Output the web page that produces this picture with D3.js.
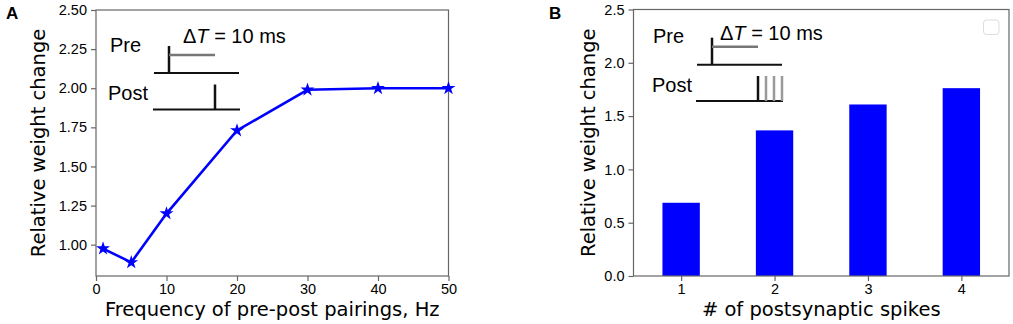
<!DOCTYPE html>
<html lang="en">
<head>
<meta charset="UTF-8">
<title>Relative weight change</title>
<style>
  body { margin: 0; background: #fff; }
  svg { display: block; font-family: "DejaVu Sans", sans-serif; }
  .tick text { font-size: 14.5px; fill: #000; }
  .inset text { font-family: "Liberation Sans", "Open Sans", sans-serif; }
</style>
<script src="https://cdn.jsdelivr.net/npm/d3@7"></script>
</head>
<body>
<div id="graphic"></div>
<script>
// panel A data
var freqs = [1, 5, 10, 20, 30, 40, 50];
var freqChange = [0.975, 0.887, 1.199, 1.73, 1.99, 2.0, 2.0];
var freqTicks = [0, 10, 20, 30, 40, 50];
var changeTicksA = [1.00, 1.25, 1.50, 1.75, 2.00, 2.25, 2.50];

// panel B data
var spikeCounts = [1, 2, 3, 4];
var spikeChange = [0.687, 1.366, 1.609, 1.762];
var changeTicksB = [0.0, 0.5, 1.0, 1.5, 2.0, 2.5];

var width = 1013, height = 324;
var spineColor = '#666';
var labelSize = 19.5;
var insetSize = 20;

var svg = d3.select('#graphic').append('svg')
    .attr('width', width)
    .attr('height', height);

function styleAxis(g) {
    g.selectAll('.domain').remove();
    g.selectAll('.tick line').attr('stroke', spineColor).attr('stroke-width', 1.2);
}

function frame(g, x0, x1, y0, y1) {
    g.append('rect')
        .attr('x', x0).attr('y', y0)
        .attr('width', x1 - x0).attr('height', y1 - y0)
        .attr('fill', 'none')
        .attr('stroke', spineColor)
        .attr('stroke-width', 1.2);
}

// inset schematic: pre / post spike cartoon
function drawInset(g, o, postSpikes) {
    var ins = g.append('g').attr('class', 'inset');
    ins.append('text').attr('x', o.preX).attr('y', o.preY).attr('font-size', insetSize).text('Pre');
    ins.append('text').attr('x', o.postX).attr('y', o.postY).attr('font-size', insetSize).text('Post');
    var dt = ins.append('text').attr('x', o.dtX).attr('y', o.dtY).attr('font-size', insetSize);
    dt.append('tspan').text('Δ');
    dt.append('tspan').attr('font-style', 'italic').text('T');
    dt.append('tspan').text(' = 10 ms');

    // pre baseline + spike + delay bar
    ins.append('line').attr('x1', o.lineX0).attr('x2', o.lineX1)
        .attr('y1', o.preBase).attr('y2', o.preBase).attr('stroke', '#111').attr('stroke-width', 2);
    ins.append('line').attr('x1', o.preSpike).attr('x2', o.preSpike)
        .attr('y1', o.preBase - 27).attr('y2', o.preBase).attr('stroke', '#111').attr('stroke-width', 2.5);
    ins.append('line').attr('x1', o.preSpike).attr('x2', o.postSpike)
        .attr('y1', o.preBase - 18).attr('y2', o.preBase - 18).attr('stroke', '#777').attr('stroke-width', 2.5);

    // post baseline + spikes
    ins.append('line').attr('x1', o.lineX0 - 1).attr('x2', o.lineX1 + 1)
        .attr('y1', o.postBase).attr('y2', o.postBase).attr('stroke', '#111').attr('stroke-width', 2);
    postSpikes.forEach(function (s, i) {
        ins.append('line').attr('x1', o.postSpike + s).attr('x2', o.postSpike + s)
            .attr('y1', o.postBase - 25).attr('y2', o.postBase)
            .attr('stroke', i === 0 ? '#111' : '#999').attr('stroke-width', 2.5);
    });
}

// ---------- Panel A ----------
var A = { left: 96, right: 448.5, top: 10, bottom: 276 };
var xA = d3.scaleLinear().domain([0, 50]).range([A.left, A.right]);
var yA = d3.scaleLinear().domain([0.8, 2.5]).range([A.bottom, A.top]);
var gA = svg.append('g');

gA.append('g').attr('transform', 'translate(0,' + A.bottom + ')')
    .call(d3.axisBottom(xA).tickValues(freqTicks).tickSize(5).tickPadding(3))
    .call(styleAxis);
gA.append('g').attr('transform', 'translate(' + A.left + ',0)')
    .call(d3.axisLeft(yA).tickValues(changeTicksA).tickFormat(d3.format('.2f')).tickSize(5).tickPadding(4))
    .call(styleAxis);
frame(gA, A.left, A.right, A.top, A.bottom);

drawInset(gA, {
    preX: 110, preY: 52, postX: 108, postY: 100, dtX: 183, dtY: 43,
    lineX0: 154, lineX1: 239, preBase: 73, postBase: 109.5,
    preSpike: 169, postSpike: 215
}, [0]);

var ptsA = freqs.map(function (f, i) { return [f, freqChange[i]]; });
gA.append('path').datum(ptsA)
    .attr('fill', 'none').attr('stroke', '#0000ff').attr('stroke-width', 2.6)
    .attr('d', d3.line().x(function (d) { return xA(d[0]); }).y(function (d) { return yA(d[1]); }));
gA.selectAll('.star').data(ptsA).join('path')
    .attr('class', 'star')
    .attr('transform', function (d) { return 'translate(' + xA(d[0]) + ',' + yA(d[1]) + ')'; })
    .attr('d', d3.symbol().type(d3.symbolStar).size(60))
    .attr('fill', '#0000ff');

gA.append('text').attr('x', (A.left + A.right) / 2).attr('y', 316)
    .attr('text-anchor', 'middle').attr('font-size', labelSize).text('Frequency of pre-post pairings, Hz');
gA.append('text').attr('transform', 'translate(45,' + (A.top + A.bottom) / 2 + ') rotate(-90)')
    .attr('text-anchor', 'middle').attr('font-size', labelSize).text('Relative weight change');
gA.append('text').attr('x', 6).attr('y', 19).attr('font-family', 'Liberation Sans, Arial, sans-serif')
    .attr('font-weight', 'bold').attr('font-size', 17).text('A');

// ---------- Panel B ----------
var B = { left: 633.5, right: 1009, top: 9.5, bottom: 276 };
var xB = d3.scaleLinear().domain([0.49, 4.51]).range([B.left, B.right]);
var yB = d3.scaleLinear().domain([0, 2.5]).range([B.bottom, B.top]);
var gB = svg.append('g');
var barW = 0.4;

gB.selectAll('.bar').data(spikeCounts).join('rect')
    .attr('class', 'bar')
    .attr('x', function (d) { return xB(d - barW / 2); })
    .attr('width', function (d) { return xB(d + barW / 2) - xB(d - barW / 2); })
    .attr('y', function (d, i) { return yB(spikeChange[i]); })
    .attr('height', function (d, i) { return yB(0) - yB(spikeChange[i]); })
    .attr('fill', '#0000ff');

gB.append('g').attr('transform', 'translate(0,' + B.bottom + ')')
    .call(d3.axisBottom(xB).tickValues(spikeCounts).tickFormat(d3.format('d')).tickSize(5).tickPadding(3))
    .call(styleAxis);
gB.append('g').attr('transform', 'translate(' + B.left + ',0)')
    .call(d3.axisLeft(yB).tickValues(changeTicksB).tickFormat(d3.format('.1f')).tickSize(5).tickPadding(4))
    .call(styleAxis);
frame(gB, B.left, B.right, B.top, B.bottom);

// empty legend box
gB.append('rect').attr('x', 983.5).attr('y', 20).attr('width', 15.5).attr('height', 14.5)
    .attr('rx', 3).attr('fill', '#fff').attr('stroke', '#ddd').attr('stroke-width', 1);

drawInset(gB, {
    preX: 653, preY: 43, postX: 652, postY: 92, dtX: 720, dtY: 40,
    lineX0: 697, lineX1: 782, preBase: 64.7, postBase: 101,
    preSpike: 712, postSpike: 758
}, [0, 8, 16, 24]);

gB.append('text').attr('x', (B.left + B.right) / 2).attr('y', 316)
    .attr('text-anchor', 'middle').attr('font-size', labelSize).text('# of postsynaptic spikes');
gB.append('text').attr('transform', 'translate(595,' + (B.top + B.bottom) / 2 + ') rotate(-90)')
    .attr('text-anchor', 'middle').attr('font-size', labelSize).text('Relative weight change');
gB.append('text').attr('x', 549).attr('y', 19).attr('font-family', 'Liberation Sans, Arial, sans-serif')
    .attr('font-weight', 'bold').attr('font-size', 17).text('B');
</script>
</body>
</html>
